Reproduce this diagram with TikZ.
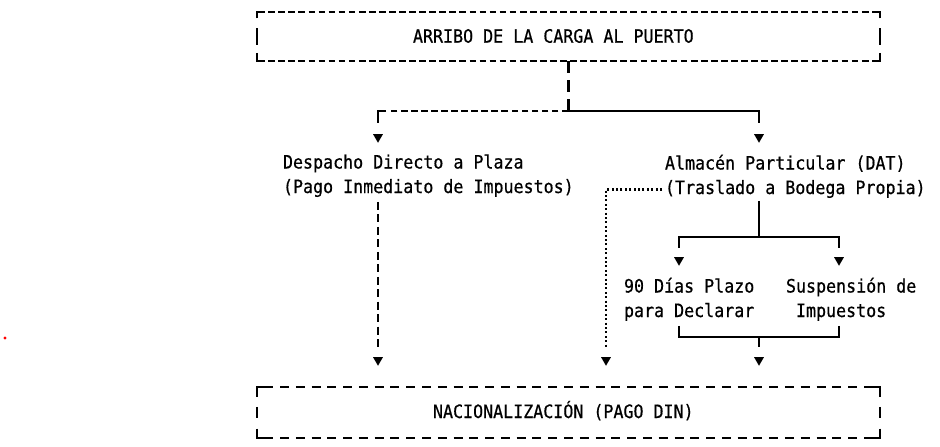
\documentclass[tikz,border=0pt]{standalone}
\usepackage{fontspec}
\setmonofont[FakeStretch=0.905,FakeBold=0.6]{DejaVu Sans Mono}
\usetikzlibrary{shapes.geometric,calc}
\begin{document}
\begin{tikzpicture}[x=1pt,y=-1pt,line width=2.1pt,
  txt/.style={font=\ttfamily\fontsize{18.4}{24.5}\selectfont,inner sep=0pt,outer sep=0pt,align=left,anchor=base west},
  tri/.style={regular polygon,regular polygon sides=3,shape border rotate=180,fill=black,draw=none,minimum size=11.5pt,inner sep=0pt,outer sep=0pt},
  frame/.style={inner sep=0pt,outer sep=0pt,draw=none,minimum width=623pt},
  dashA/.style={dash pattern=on 6.7pt off 3.36pt},
  dashB/.style={dash pattern=on 9pt off 6.78pt},
  dashV/.style={dash pattern=on 8pt off 4.47pt},
  dashT/.style={dash pattern=on 12pt off 7pt},
  dots/.style={line width=2.2pt,dash pattern=on 2pt off 2.4pt},
  gap/.style={shorten >=#1}]
\useasboundingbox (0,0) rectangle (940,447);
\fill[white] (0,0) rectangle (940,447);
\fill[red] (5,338) circle (1.6pt);

% boxes and texts
\node[frame,minimum height=49.5pt] (topbox) at (568.5,36.5) {};
\node[txt] (toptext) at (413,42.7) {ARRIBO DE LA CARGA AL PUERTO};
\node[frame,minimum height=51.3pt] (botbox) at (568.5,412.3) {};
\node[txt] (bottext) at (433,418) {NACIONALIZACIÓN (PAGO DIN)};
\node[txt] (despacho) at (283,193) {Despacho Directo a Plaza\\(Pago Inmediato de Impuestos)};
\node[txt] (almacen) at (665,194) {Almacén Particular (DAT)\\(Traslado a Bodega Propia)};
\node[txt] (dias) at (624,317) {90 Días Plazo\\para Declarar};
\node[txt] (susp) at (786,317) {Suspensión de\\\hspace*{10pt}Impuestos};

% arrow heads
\node[tri] (t1) at (378,137) {};
\node[tri] (t2) at (759,137) {};
\node[tri] (t3) at (378,360) {};
\node[tri] (t4) at (606,360) {};
\node[tri] (t5) at (679,260) {};
\node[tri] (t6) at (839,260) {};
\node[tri] (t7) at (759,360) {};

% top box frame
\draw ($(topbox.north west)+(0,6.5)$) -- (topbox.north west) -- +(8,0);
\draw ($(topbox.north east)+(0,6.5)$) -- (topbox.north east) -- +(-8,0);
\draw ($(topbox.south west)+(0,-8.5)$) -- (topbox.south west) -- +(8,0);
\draw ($(topbox.south east)+(0,-8.5)$) -- (topbox.south east) -- +(-8,0);
\draw[dashA] ($(topbox.north west)+(11.3,0)$) -- ($(topbox.north east)+(-11.3,0)$);
\draw[dashA] ($(topbox.south west)+(11.3,0)$) -- ($(topbox.south east)+(-11.3,0)$);
\draw ($(topbox.west)+(0,-8.5)$) -- ($(topbox.west)+(0,8.5)$);
\draw ($(topbox.east)+(0,-8.5)$) -- ($(topbox.east)+(0,8.5)$);

% bottom box frame
\draw ($(botbox.north west)+(0,10)$) -- (botbox.north west) -- +(16,0);
\draw ($(botbox.north east)+(0,10)$) -- (botbox.north east) -- +(-16,0);
\draw ($(botbox.south west)+(0,-9.3)$) -- (botbox.south west) -- +(16,0);
\draw ($(botbox.south east)+(0,-9.3)$) -- (botbox.south east) -- +(-16,0);
\draw[dashB] ($(botbox.north west)+(23,0)$) -- ($(botbox.north east)+(-23,0)$);
\draw[dashB] ($(botbox.south west)+(23,0)$) -- ($(botbox.south east)+(-23,0)$);
\draw ($(botbox.west)+(0,-5.5)$) -- ($(botbox.west)+(0,5.5)$);
\draw ($(botbox.east)+(0,-5.5)$) -- ($(botbox.east)+(0,5.5)$);

% connectors
\coordinate (j1) at ($(topbox.south)+(0,50)$);
\draw[dashT] (topbox.south) -- (j1);
\draw[dashA] (j1) -- ($(j1 -| t1)+(11,0)$);
\draw[gap=11pt] ($(j1 -| t1)+(8,0)$) -- (j1 -| t1) -- (t1.north);
\draw[gap=11pt] (j1) -| (t2.north);

\draw[dashV,gap=10pt] ($(t3 |- despacho.south)+(0,5)$) -- (t3.north);
\draw[dots,gap=10pt] ($(almacen.south west)+(-3,-8.5)$) -| (t4.north);

\coordinate (j2) at (759,237);
\draw ($(t2 |- almacen.south)+(0,3)$) -- (j2);
\draw[gap=9pt] (j2) -| (t5.north);
\draw[gap=9pt] (j2) -| (t6.north);

\coordinate (j3) at (759,337);
\draw ($(t5 |- dias.south)+(0,5)$) |- (j3);
\draw ($(t6 |- susp.south)+(0,5)$) |- (j3);
\draw[gap=10pt] (j3) -- (t7.north);
\end{tikzpicture}
\end{document}
